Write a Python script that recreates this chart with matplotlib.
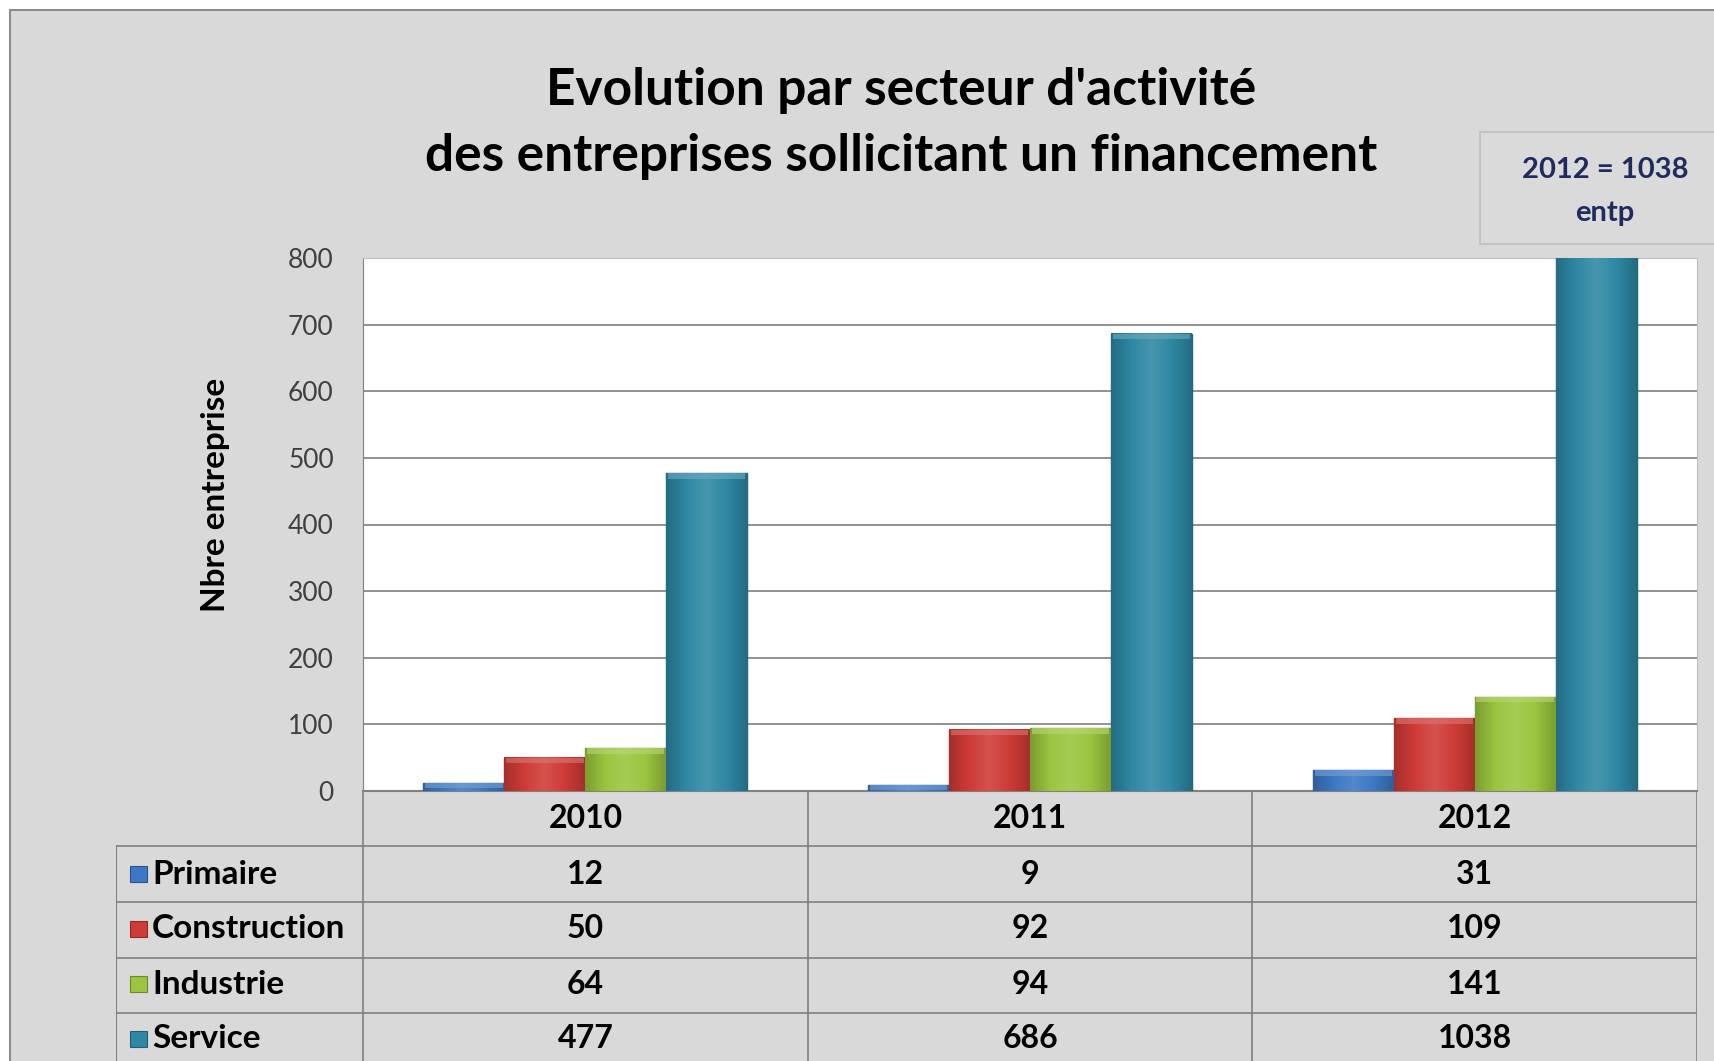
import matplotlib
matplotlib.use("Agg")
import matplotlib.pyplot as plt
import numpy as np
from matplotlib.colors import LinearSegmentedColormap, to_rgb
from matplotlib.patches import Rectangle

plt.rcParams['font.family'] = ['Lato', 'DejaVu Sans']

# data
years = ['2010', '2011', '2012']
sectors = ['Primaire', 'Construction', 'Industrie', 'Service']
primaire = [12, 9, 31]
construction = [50, 92, 109]
industrie = [64, 94, 141]
service = [477, 686, 1038]
series = [primaire, construction, industrie, service]
colors = ['#3C78C3', '#CF3B36', '#9BC53E', '#2E88A4']
yticks = [0, 100, 200, 300, 400, 500, 600, 700, 800]

W, H = 1715, 1061
fig = plt.figure(figsize=(W / 100, H / 100), dpi=100)
fig.patch.set_facecolor('white')

# chart frame
fig.add_artist(Rectangle((10 / W, -0.02), 1.05, 1 - 10 / H + 0.02,
                         transform=fig.transFigure, facecolor='#D9D9D9',
                         edgecolor='#8C8C8C', linewidth=1.5, zorder=0))


def shade(c, f):
    r = np.array(to_rgb(c))
    if f < 1:
        return tuple(r * f)
    return tuple(r + (1 - r) * (f - 1))


# plot area
x0, x1, ytop, ybot = 363, 1697, 258, 791
ax = fig.add_axes([x0 / W, 1 - ybot / H, (x1 - x0) / W, (ybot - ytop) / H])
ax.set_facecolor('white')
ax.set_xlim(-0.5, 2.5)
ax.set_ylim(0, 800)
ymax = ax.get_ylim()[1]
x = np.arange(len(years))
bw = 0.182
for i, (vals, col) in enumerate(zip(series, colors)):
    bars = ax.bar(x + (i - 1.5) * bw, vals, bw, color=col,
                  edgecolor=shade(col, 0.75), linewidth=1, zorder=3)
    cmap = LinearSegmentedColormap.from_list(
        's%d' % i, [shade(col, 0.8), col, shade(col, 1.12), col, shade(col, 0.8)])
    for b in bars:
        bx, bh = b.get_x(), b.get_height()
        top = min(bh, ymax)
        im = ax.imshow(np.linspace(0, 1, 64).reshape(1, -1), cmap=cmap,
                       extent=[bx, bx + bw, 0, top], aspect='auto', zorder=3.5)
        # bevel on top
        if bh <= ymax:
            ax.add_patch(Rectangle((bx + 0.004, bh - min(bh, 8)), bw - 0.008, min(bh, 8),
                                   facecolor=shade(col, 1.3), edgecolor='none',
                                   alpha=0.6, zorder=4))

ax.set_xlim(-0.5, 2.5)
ax.set_ylim(0, 800)
ax.set_yticks(yticks)
ax.set_yticklabels([str(t) for t in yticks], fontsize=19, color='#404040')
ax.tick_params(axis='y', length=0, pad=21)
ax.set_xticks([])
ax.grid(axis='y', color='#7F7F7F', linewidth=1.2, zorder=1)
ax.set_axisbelow(True)
for s in ['top', 'right']:
    ax.spines[s].set_color('#BFBFBF')
ax.spines['left'].set_color('#808080')
ax.spines['bottom'].set_color('#808080')
ax.spines['bottom'].set_linewidth(1.5)
ax.set_ylabel('Nbre entreprise', fontsize=24, fontweight='bold')
ax.yaxis.set_label_coords(-0.1, 0.555)

# data table below the chart
tl = 116
tab = fig.add_axes([tl / W, 0, (x1 - tl) / W, (H - ybot) / H])
tab.set_xlim(-0.5 - (x0 - tl) / ((x1 - x0) / 3), 2.5)
tab.set_ylim(H - ybot, 0)
tab.axis('off')
left = tab.get_xlim()[0]
lc = '#808080'
rows = [0, 55, 111, 167, 222]
tab.plot([-0.5, 2.5], [0, 0], color=lc, lw=1.2)
for r in rows[1:]:
    tab.plot([left, 2.5], [r, r], color=lc, lw=1.2)
for xv in [-0.5, 0.5, 1.5, 2.5]:
    tab.plot([xv, xv], [0, H - ybot], color=lc, lw=1.2)
tab.plot([left, left], [55, H - ybot], color=lc, lw=1.5)

for j, yr in enumerate(years):
    tab.text(j, 28, yr, ha='center', va='center', fontsize=23, fontweight='bold')
unit = (x1 - x0) / 3
for i, (name, vals, col) in enumerate(zip(sectors, series, colors)):
    yc = 55 * (i + 1) + 28
    tab.add_patch(Rectangle((left + 14 / unit, yc - 8), 17 / unit, 16,
                            facecolor=col, edgecolor=shade(col, 0.7), lw=0.8))
    tab.text(left + 36 / unit, yc, name, ha='left', va='center',
             fontsize=24, fontweight='bold')
    for j, v in enumerate(vals):
        tab.text(j, yc, str(v), ha='center', va='center', fontsize=23,
                 fontweight='bold')

# title
fig.text(901 / W, 1 - 91 / H, "Evolution par secteur d'activité",
         ha='center', va='center', fontsize=37, fontweight='bold')
fig.text(901 / W, 1 - 157 / H, "des entreprises sollicitant un financement",
         ha='center', va='center', fontsize=37, fontweight='bold')

# annotation box
fig.add_artist(Rectangle((1480 / W, 1 - 244 / H), 0.2, 112 / H,
                         transform=fig.transFigure, facecolor='#DADADA',
                         edgecolor='#BFBFBF', linewidth=1.2, zorder=1))
fig.text(1605 / W, 1 - 170 / H, '2012 = 1038', ha='center', va='center',
         fontsize=21, fontweight='bold', color='#1F2B5E')
fig.text(1605 / W, 1 - 213 / H, 'entp', ha='center', va='center',
         fontsize=21, fontweight='bold', color='#1F2B5E')

fig.savefig('out.png', dpi=100)
